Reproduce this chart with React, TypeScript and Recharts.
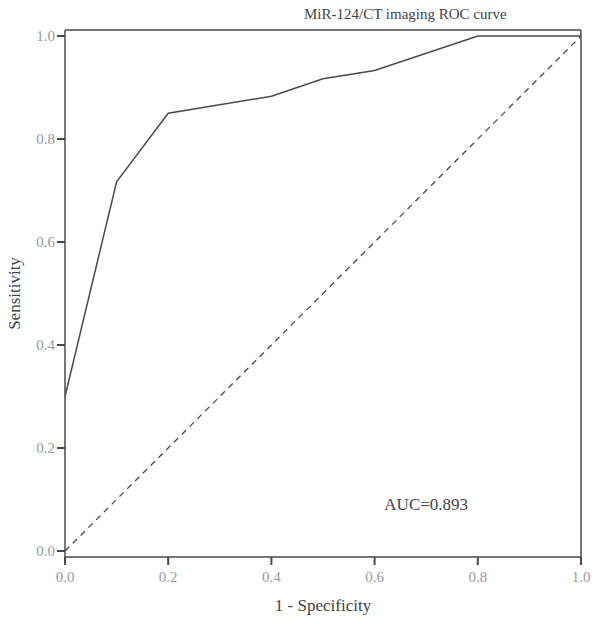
import { LineChart, Line, XAxis, YAxis, ReferenceDot, Label } from "recharts";

const fpr = [0, 0.1, 0.2, 0.4, 0.5, 0.6, 0.8, 1.0];
const tpr = [0.3, 0.717, 0.85, 0.883, 0.917, 0.933, 1.0, 1.0];
const refFpr = [0, 1];
const refTpr = [0, 1];
const axisTicks = [0, 0.2, 0.4, 0.6, 0.8, 1.0];
const aucText = "AUC=0.893";
const title = "MiR-124/CT imaging ROC curve";

const curve = fpr.map((x, i) => ({ x, roc: tpr[i] }));
const diagonal = refFpr.map((x, i) => ({ x, ref: refTpr[i] }));

const FONT = "'Liberation Serif', 'Times New Roman', serif";
const LINE = "#4a4a4a";
const TICK = { fontSize: 15, fill: "#9a9a9a", fontFamily: FONT };
const fmt = (v: number) => v.toFixed(1);

export default function App() {
  return (
    <div style={{ position: "absolute", left: 0, top: 0, width: 600, height: 624, background: "#fff" }}>
      <LineChart width={600} height={624} margin={{ top: 0, right: 0, left: 0, bottom: 0 }}>
        <XAxis
          type="number"
          dataKey="x"
          domain={[0, 1]}
          ticks={axisTicks}
          tickFormatter={fmt}
          tick={{ ...TICK, dy: 4 }}
          tickSize={8}
          height={67}
          tickLine={{ stroke: LINE, strokeWidth: 2 }}
          axisLine={{ stroke: LINE, strokeWidth: 1.5 }}
          allowDataOverflow
        >
          <Label
            value="1 - Specificity"
            position="insideBottom"
            offset={13}
            style={{ fontSize: 17, fill: "#444", fontFamily: FONT }}
          />
        </XAxis>
        <XAxis
          xAxisId="top"
          orientation="top"
          type="number"
          domain={[0, 1]}
          tick={false}
          tickLine={false}
          height={30}
          axisLine={{ stroke: LINE, strokeWidth: 1.5 }}
        />
        <YAxis
          type="number"
          domain={[-0.0117, 1.0117]}
          ticks={axisTicks}
          tickFormatter={fmt}
          tick={TICK}
          tickSize={8}
          width={65}
          tickLine={{ stroke: LINE, strokeWidth: 2 }}
          axisLine={{ stroke: LINE, strokeWidth: 1.5 }}
          allowDataOverflow
        >
          <Label
            value="Sensitivity"
            angle={-90}
            position="insideLeft"
            offset={14}
            style={{ fontSize: 17, fill: "#444", fontFamily: FONT, textAnchor: "middle" }}
          />
        </YAxis>
        <YAxis
          yAxisId="right"
          orientation="right"
          domain={[0, 1]}
          tick={false}
          tickLine={false}
          width={19}
          axisLine={{ stroke: LINE, strokeWidth: 1.5 }}
        />
        <Line
          data={diagonal}
          dataKey="ref"
          stroke={LINE}
          strokeWidth={1.3}
          strokeDasharray="6 5"
          dot={false}
          isAnimationActive={false}
        />
        <Line
          data={curve}
          dataKey="roc"
          type="linear"
          stroke={LINE}
          strokeWidth={1.5}
          dot={false}
          isAnimationActive={false}
        />
        <ReferenceDot x={0.7} y={0.092} r={0} fill="none" stroke="none">
          <Label value={aucText} position="center" style={{ fontSize: 17, fill: "#444", fontFamily: FONT }} />
        </ReferenceDot>
      </LineChart>
      <div
        style={{
          position: "absolute",
          left: 304,
          top: 6,
          fontFamily: FONT,
          fontSize: 15,
          color: "#444",
          whiteSpace: "nowrap",
        }}
      >
        {title}
      </div>
    </div>
  );
}
